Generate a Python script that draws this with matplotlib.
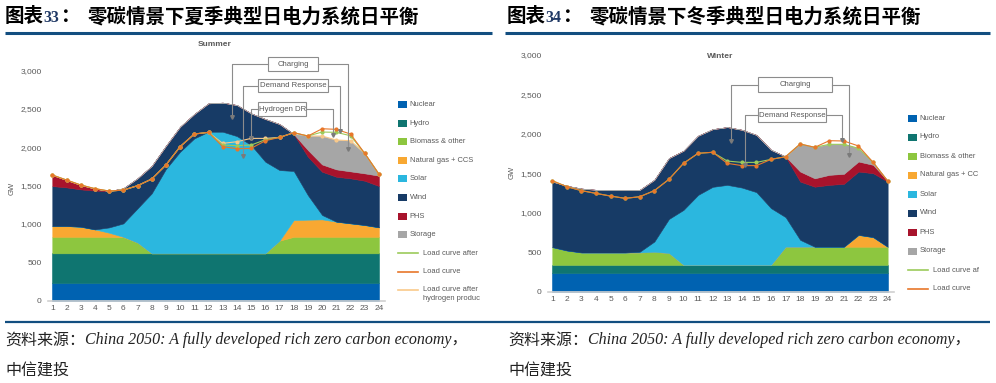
import matplotlib
matplotlib.use('Agg')
import matplotlib.pyplot as plt
from matplotlib.patches import Rectangle
import numpy as np

# ---------------- data ----------------
hours = list(range(1, 25))
x_labels = [str(h) for h in hours]
y_ticks = [0, 500, 1000, 1500, 2000, 2500, 3000]
y_labels = ['0', '500', '1,000', '1,500', '2,000', '2,500', '3,000']

series_names = ['Nuclear', 'Hydro', 'Biomass & other', 'Natural gas + CCS',
                'Solar', 'Wind', 'PHS', 'Storage']
series_colors = ['#0062B1', '#0F7570', '#8DC63F', '#F8A832',
                 '#2BB7DF', '#173B66', '#A8132C', '#A6A6A6']

# Summer (GW)
summer_nuclear = [235, 235, 235, 235, 235, 235, 235, 235, 235, 235, 235, 235,
                  235, 235, 235, 235, 235, 235, 235, 235, 235, 235, 235, 235]
summer_hydro = [383, 383, 383, 383, 383, 383, 383, 383, 383, 383, 383, 383,
                383, 383, 383, 383, 383, 383, 383, 383, 383, 383, 383, 383]
summer_biomass = [215, 215, 215, 215, 215, 210, 140, 0, 0, 0, 0, 0,
                  0, 0, 0, 0, 165, 215, 215, 215, 215, 215, 215, 215]
summer_gas = [141, 141, 132, 97, 54, 5, 0, 0, 0, 0, 0, 0,
              0, 0, 0, 0, 0, 219, 224, 228, 198, 176, 154, 124]
summer_solar = [0, 0, 0, 0, 69, 175, 446, 782, 1100, 1325, 1499, 1586,
                1586, 1529, 1412, 1195, 921, 640, 319, 57, 0, 0, 0, 0]
summer_wind = [521, 504, 487, 505, 474, 458, 392, 357, 302, 326, 318, 370,
               379, 405, 413, 557, 600, 482, 502, 564, 586, 587, 578, 539]
summer_phs = [144, 96, 57, 26, 0, 0, 0, 0, 0, 0, 0, 0,
              0, 0, 0, 0, 0, 0, 87, 95, 96, 91, 96, 135]
summer_storage = [0, 0, 0, 0, 0, 0, 0, 0, 0, 0, 0, 0,
                  0, 0, 0, 0, 0, 0, 183, 371, 383, 400, 261, 18]
summer_load = [1639, 1574, 1509, 1461, 1430, 1443, 1500, 1587, 1770, 2009, 2174, 2196,
               2009, 1983, 1987, 2087, 2130, 2191, 2148, 2243, 2235, 2174, 1922, 1652]
summer_load_after = [1639, 1574, 1509, 1461, 1430, 1443, 1500, 1587, 1770, 2009, 2174, 2196,
                     2030, 2022, 2030, 2100, 2130, 2191, 2148, 2200, 2196, 2152, 1922, 1652]
summer_load_h2 = [1639, 1574, 1509, 1461, 1430, 1443, 1500, 1587, 1770, 2009, 2174, 2196,
                  2052, 2074, 2117, 2117, 2130, 2191, 2148, 2148, 2096, 2087, 1922, 1652]

# Winter (GW)
winter_nuclear = [233, 233, 233, 233, 233, 233, 233, 233, 233, 233, 233, 233,
                  233, 233, 233, 233, 233, 233, 233, 233, 233, 233, 233, 233]
winter_hydro = [107, 107, 107, 107, 107, 107, 107, 107, 107, 107, 107, 107,
                107, 107, 107, 107, 107, 107, 107, 107, 107, 107, 107, 107]
winter_biomass = [225, 182, 157, 157, 157, 157, 157, 165, 150, 0, 0, 0,
                  0, 0, 0, 0, 230, 230, 230, 230, 230, 230, 230, 230]
winter_gas = [0, 0, 0, 0, 0, 0, 0, 0, 0, 0, 0, 0,
              0, 0, 0, 0, 0, 0, 0, 0, 0, 150, 122, 0]
winter_solar = [0, 0, 0, 0, 0, 0, 10, 131, 432, 697, 887, 989,
                1014, 980, 922, 719, 375, 87, 0, 0, 0, 0, 0, 0]
winter_wind = [831, 820, 810, 794, 790, 790, 784, 782, 771, 750, 750, 731,
               732, 732, 725, 739, 768, 739, 761, 784, 797, 803, 810, 826]
winter_phs = [0, 0, 0, 0, 0, 0, 0, 0, 0, 0, 0, 0,
              0, 0, 0, 0, 0, 127, 106, 127, 127, 127, 106, 10]
winter_storage = [0, 0, 0, 0, 0, 0, 0, 0, 0, 0, 0, 0,
                  0, 0, 0, 0, 0, 351, 393, 389, 376, 169, 34, 0]
winter_load = [1407, 1331, 1281, 1246, 1212, 1183, 1204, 1281, 1424, 1627, 1754, 1767,
               1627, 1598, 1598, 1677, 1711, 1872, 1830, 1914, 1910, 1847, 1640, 1403]
winter_load_after = [1407, 1331, 1281, 1246, 1212, 1183, 1204, 1281, 1424, 1627, 1754, 1767,
                     1656, 1639, 1639, 1677, 1711, 1872, 1830, 1868, 1868, 1817, 1640, 1403]

line_colors = {'after': '#9CCB5B', 'load': '#E8772A', 'h2': '#F9C98A'}

# ---------------- figure ----------------
W, H = 996, 383
fig = plt.figure(figsize=(W / 100, H / 100), dpi=100)
fig.patch.set_facecolor('white')

TXT = '#595959'
SANS = 'Liberation Sans'


def add_ax(px_left, px_right, px_zero, px_top, ppg, hour1_px, step_px):
    ax = fig.add_axes([px_left / W, 1 - px_zero / H,
                       (px_right - px_left) / W, (px_zero - px_top) / H])
    ax.set_xlim(1 + (px_left - hour1_px) / step_px, 1 + (px_right - hour1_px) / step_px)
    ax.set_ylim(0, (px_zero - px_top) / ppg)
    for s in ['top', 'right', 'left']:
        ax.spines[s].set_visible(False)
    ax.spines['bottom'].set_color('#D0D0D0')
    ax.spines['bottom'].set_linewidth(1.2)
    ax.set_xticks(hours, x_labels)
    ax.set_yticks(y_ticks, y_labels)
    ax.tick_params(axis='both', length=0, labelsize=6, labelcolor=TXT)
    ax.tick_params(axis='y', pad=4.5)
    ax.tick_params(axis='x', pad=3)
    for lab in ax.get_xticklabels() + ax.get_yticklabels():
        lab.set_family(SANS)
    ax.patch.set_alpha(0)
    return ax


def draw_stack(ax, data):
    polys = ax.stackplot(hours, *data, colors=series_colors, linewidth=0.4)
    for p, c in zip(polys, series_colors):
        p.set_edgecolor(c)


def draw_line(ax, vals, color, z):
    ax.plot(hours, vals, color=color, lw=0.8, marker='o', ms=2.0,
            mec=color, mfc=color, zorder=z)


def box_annot(ax, text, x0, x1, y0, y1, left_tip, right_tip):
    gc = '#8C8C8C'
    ax.add_patch(Rectangle((x0, y0), x1 - x0, y1 - y0, fc='white', ec=gc,
                           lw=0.8, clip_on=False, zorder=8))
    ax.text((x0 + x1) / 2, (y0 + y1) / 2, text, ha='center', va='center',
            fontsize=5.6, color=TXT, family=SANS, zorder=9, clip_on=False)
    yc = (y0 + y1) / 2
    for edge, tip in ((x0, left_tip), (x1, right_tip)):
        tx, ty = tip
        ax.plot([edge, tx, tx], [yc, yc, ty], color=gc, lw=0.8,
                clip_on=False, zorder=8)
        ax.plot([tx], [ty], marker='v', ms=2.6, color='#7A7A7A',
                clip_on=False, zorder=8)


# Summer axes
ax1 = add_ax(48, 385, 300.7, 50, 230 / 3000, 52.3, 14.2)
draw_stack(ax1, [summer_nuclear, summer_hydro, summer_biomass, summer_gas,
                 summer_solar, summer_wind, summer_phs, summer_storage])
draw_line(ax1, summer_load_h2, line_colors['h2'], 5)
draw_line(ax1, summer_load_after, line_colors['after'], 6)
draw_line(ax1, summer_load, line_colors['load'], 7)
box_annot(ax1, 'Charging', 16.2, 19.7, 2995, 3178, (13.65, 2395), (21.8, 1978))
box_annot(ax1, 'Demand Response', 15.5, 20.4, 2722, 2891, (14.4, 1887), (21.26, 2213))
box_annot(ax1, 'Hydrogen DR', 15.5, 18.9, 2409, 2591, (15.0, 2122), (20.8, 2161))

# Winter axes
ax2 = add_ax(548, 894, 291.7, 50, 236.7 / 3000, 552.3, 14.58)
draw_stack(ax2, [winter_nuclear, winter_hydro, winter_biomass, winter_gas,
                 winter_solar, winter_wind, winter_phs, winter_storage])
draw_line(ax2, winter_load_after, line_colors['after'], 6)
draw_line(ax2, winter_load, line_colors['load'], 7)
box_annot(ax2, 'Charging', 15.1, 20.2, 2531, 2721, (13.25, 1910), (21.35, 1733))
box_annot(ax2, 'Demand Response', 15.1, 19.8, 2151, 2328, (14.2, 1606), (20.86, 1923))

# ---------------- overlay (pixel coordinates) ----------------
oa = fig.add_axes([0, 0, 1, 1], zorder=10)
oa.set_xlim(0, W)
oa.set_ylim(H, 0)
oa.axis('off')

CJK = ['Noto Sans CJK SC', 'DejaVu Sans']
NAVY = '#124E80'

# headers
for x0, num, body in ((5, '33', '零碳情景下夏季典型日电力系统日平衡'),
                      (507, '34', '零碳情景下冬季典型日电力系统日平衡')):
    oa.text(x0, 17, '图表', fontsize=14, fontweight='bold', family=CJK,
            va='center', ha='left')
    oa.text(x0 + 38.5, 17.5, num, fontsize=11.5, fontweight='bold',
            family=['Liberation Serif'], va='center', ha='left', color='#1F3864')
    oa.text(x0 + 56.5, 17, '：', fontsize=14, fontweight='bold', family=CJK,
            va='center', ha='left')
    oa.text(x0 + 83, 17, body, fontsize=14, fontweight='bold', family=CJK,
            va='center', ha='left')
oa.plot([5, 492], [33, 33], color=NAVY, lw=2.2, solid_capstyle='butt')
oa.plot([505, 990], [33, 33], color=NAVY, lw=2.2, solid_capstyle='butt')
oa.plot([5, 990], [322, 322], color=NAVY, lw=1.6, solid_capstyle='butt')

# chart titles and axis labels
oa.text(215, 44, 'Summer', fontsize=6, fontweight='bold', color=TXT, family=SANS,
        ha='center', va='center')
oa.text(720, 56, 'Winter', fontsize=6, fontweight='bold', color=TXT, family=SANS,
        ha='center', va='center')
oa.text(12, 188, 'GW', rotation=90, fontsize=5.5, color=TXT, family=SANS,
        ha='center', va='center')
oa.text(512, 172, 'GW', rotation=90, fontsize=5.5, color=TXT, family=SANS,
        ha='center', va='center')


# legends
def legend(x, y0, dy, labels, kinds):
    for i, (lab, kind) in enumerate(zip(labels, kinds)):
        y = y0 + i * dy
        if kind[0] == 'patch':
            oa.add_patch(Rectangle((x, y - 3.5), 9, 7, fc=kind[1], ec='none'))
            oa.text(x + 11.5, y, lab, fontsize=5.4, color=TXT, family=SANS,
                    ha='left', va='center')
        else:
            oa.plot([x, x + 20], [y, y], color=kind[1], lw=1.2)
            oa.text(x + 25, y, lab, fontsize=5.4, color=TXT, family=SANS,
                    ha='left', va='center', linespacing=1.25)


summer_legend_labels = series_names + ['Load curve after', 'Load curve']
summer_legend_kinds = [('patch', c) for c in series_colors] + [
    ('line', line_colors['after']), ('line', line_colors['load'])]
legend(398, 104.5, 18.6, summer_legend_labels, summer_legend_kinds)
oa.plot([398, 418], [290, 290], color=line_colors['h2'], lw=1.2)
oa.text(423, 294, 'Load curve after\nhydrogen produc', fontsize=5.4, color=TXT,
        family=SANS, ha='left', va='center', linespacing=1.25)

winter_legend_labels = ['Nuclear', 'Hydro', 'Biomass & other', 'Natural gas + CC',
                        'Solar', 'Wind', 'PHS', 'Storage', 'Load curve af', 'Load curve']
winter_legend_kinds = [('patch', c) for c in series_colors] + [
    ('line', line_colors['after']), ('line', line_colors['load'])]
legend(908, 118, 19.0, winter_legend_labels, winter_legend_kinds)

# source
SRC = ['Liberation Serif', 'Noto Sans CJK SC']
for x0 in (5, 508):
    oa.text(x0, 340, '资料来源：', fontsize=11.5, family=CJK, va='center', ha='left',
            color='#222222')
    oa.text(x0 + 80, 340, 'China 2050: A fully developed rich zero carbon economy，',
            fontsize=11.5, family=SRC, style='italic', va='center', ha='left',
            color='#222222')
    oa.text(x0, 371, '中信建投', fontsize=11.5, family=CJK, va='center', ha='left',
            color='#222222')

fig.savefig('out.png', dpi=100, facecolor='white')
